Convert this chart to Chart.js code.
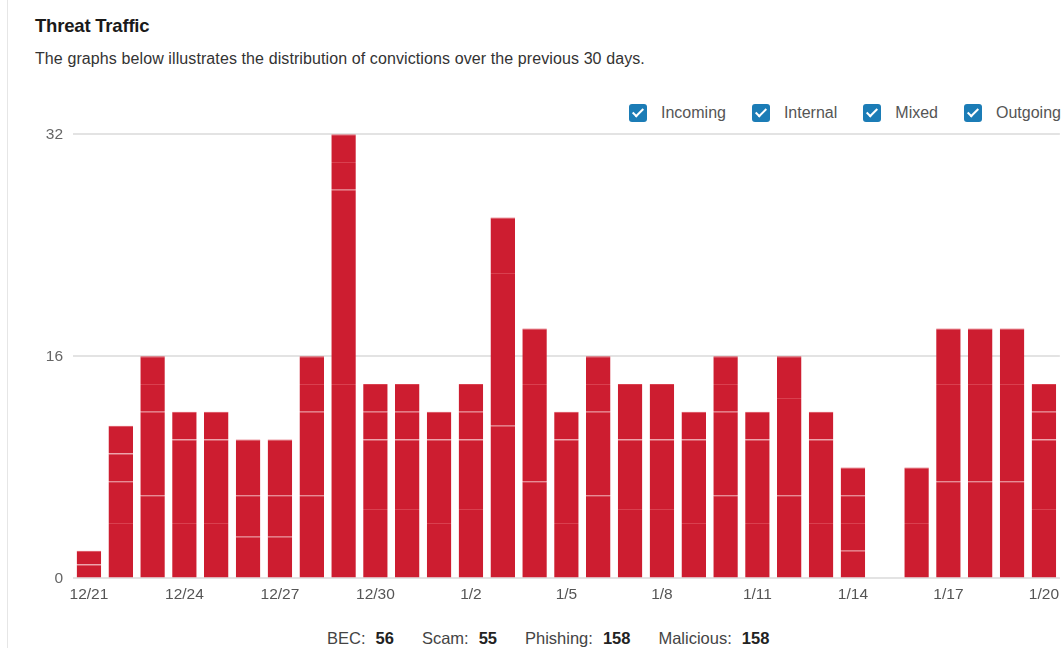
<!DOCTYPE html>
<html>
<head>
<meta charset="utf-8">
<script src="https://cdn.jsdelivr.net/npm/chart.js@4/dist/chart.umd.min.js"></script>
<style>
  html, body { margin: 0; padding: 0; background: #fff; overflow: hidden; width: 1064px; height: 648px; }
  body { font-family: "Liberation Sans", Arial, sans-serif; position: relative; }
  .card-edge { position: absolute; left: 7px; top: 0; width: 1px; height: 648px; background: #e6e6e6; }
  h1 { position: absolute; left: 35px; top: 15px; margin: 0; font-size: 18.5px; font-weight: bold; color: #1a1a1a; letter-spacing: -0.2px; }
  .sub { position: absolute; left: 35px; top: 50px; font-size: 16px; color: #333; letter-spacing: 0.1px; }
  .legend { position: absolute; top: 104px; left: 629px; display: flex; white-space: nowrap; font-size: 16px; color: #555; }
  .legend .item { display: flex; align-items: center; margin-right: 26px; }
  .box { width: 18px; height: 18px; background: #1b7cb6; border-radius: 3px; margin-right: 14px; position: relative; }
  .box::after { content: ""; position: absolute; left: 6px; top: 2px; width: 4px; height: 9px; border: solid #fff; border-width: 0 2px 2px 0; transform: rotate(45deg); }
  #wrap { position: absolute; left: 0; top: 115px; width: 1066px; height: 496px; }
  .totals { position: absolute; top: 629px; left: 327px; font-size: 16.5px; color: #444; white-space: nowrap; }
  .totals span { margin-right: 28px; }
  .totals b { color: #222; margin-left: 10px; }
</style>
</head>
<body>
<div class="card-edge"></div>
<h1>Threat Traffic</h1>
<div class="sub">The graphs below illustrates the distribution of convictions over the previous 30 days.</div>
<div class="legend">
  <div class="item"><div class="box"></div>Incoming</div>
  <div class="item"><div class="box"></div>Internal</div>
  <div class="item"><div class="box"></div>Mixed</div>
  <div class="item"><div class="box"></div>Outgoing</div>
</div>
<div id="wrap"><canvas id="chart"></canvas></div>
<div class="totals">
  <span>BEC:<b>56</b></span><span>Scam:<b>55</b></span><span>Phishing:<b>158</b></span><span>Malicious:<b>158</b></span>
</div>
<script>
const days = ['12/21','12/22','12/23','12/24','12/25','12/26','12/27','12/28','12/29','12/30','12/31',
  '1/1','1/2','1/3','1/4','1/5','1/6','1/7','1/8','1/9','1/10','1/11','1/12','1/13','1/14','1/15',
  '1/16','1/17','1/18','1/19','1/20']

// stacked segments, bottom to top
const incoming = [1,4,6,4,4,3,3,6,14,5,5,4,5,11,7,4,6,5,5,4,6,4,6,4,2,0,4,7,7,7,5]
const internal = [1,3,6,6,6,3,3,6,14,5,5,6,5,11,7,6,6,5,5,6,6,6,7,6,2,0,4,7,7,7,5]
const mixed    = [0,2,2,2,2,4,4,2,2,2,2,2,2,4,4,2,2,4,4,2,2,2,3,2,2,0,0,4,4,4,2]
const outgoing = [0,2,2,0,0,0,0,2,2,2,2,0,2,0,0,0,2,0,0,0,2,0,0,0,2,0,0,0,0,0,2]

const yTicks = [0, 16, 32]

const red = '#cd1d30'
const seam = '#d9404f'

function makeSet(label, data) {
    return {
        label: label,
        data: data,
        backgroundColor: red,
        borderColor: seam,
        borderWidth: { top: 1, left: 0, right: 0, bottom: 0 },
        borderSkipped: false,
        categoryPercentage: 0.77,
        barPercentage: 1
    }
}

const ctx = document.getElementById('chart').getContext('2d')

const myChart = new Chart(ctx, {
    type: 'bar',
    data: {
        labels: days,
        datasets: [
            makeSet('Incoming', incoming),
            makeSet('Internal', internal),
            makeSet('Mixed', mixed),
            makeSet('Outgoing', outgoing)
        ]
    },
    options: {
        responsive: true,
        maintainAspectRatio: false,
        animation: false,
        plugins: {
            legend: { display: false },
            tooltip: { enabled: false }
        },
        scales: {
            x: {
                stacked: true,
                grid: { display: false, drawTicks: false },
                border: { display: true, color: '#e3e3e3' },
                ticks: {
                    autoSkip: false,
                    maxRotation: 0,
                    padding: 7,
                    color: '#555',
                    font: { family: 'Liberation Sans, Arial, sans-serif', size: 15.5 },
                    callback: function (value, index) {
                        return index % 3 === 0 ? days[index] : ''
                    }
                }
            },
            y: {
                stacked: true,
                min: 0,
                max: 32,
                afterFit: function (scale) { scale.width = 73 },
                afterBuildTicks: function (scale) {
                    scale.ticks = yTicks.map(v => ({ value: v }))
                },
                grid: { color: '#e3e3e3', lineWidth: 2, drawTicks: false },
                border: { display: false },
                ticks: {
                    padding: 10,
                    color: '#666',
                    font: { family: 'Liberation Sans, Arial, sans-serif', size: 15.5 }
                }
            }
        }
    }
})
</script>
</body>
</html>
